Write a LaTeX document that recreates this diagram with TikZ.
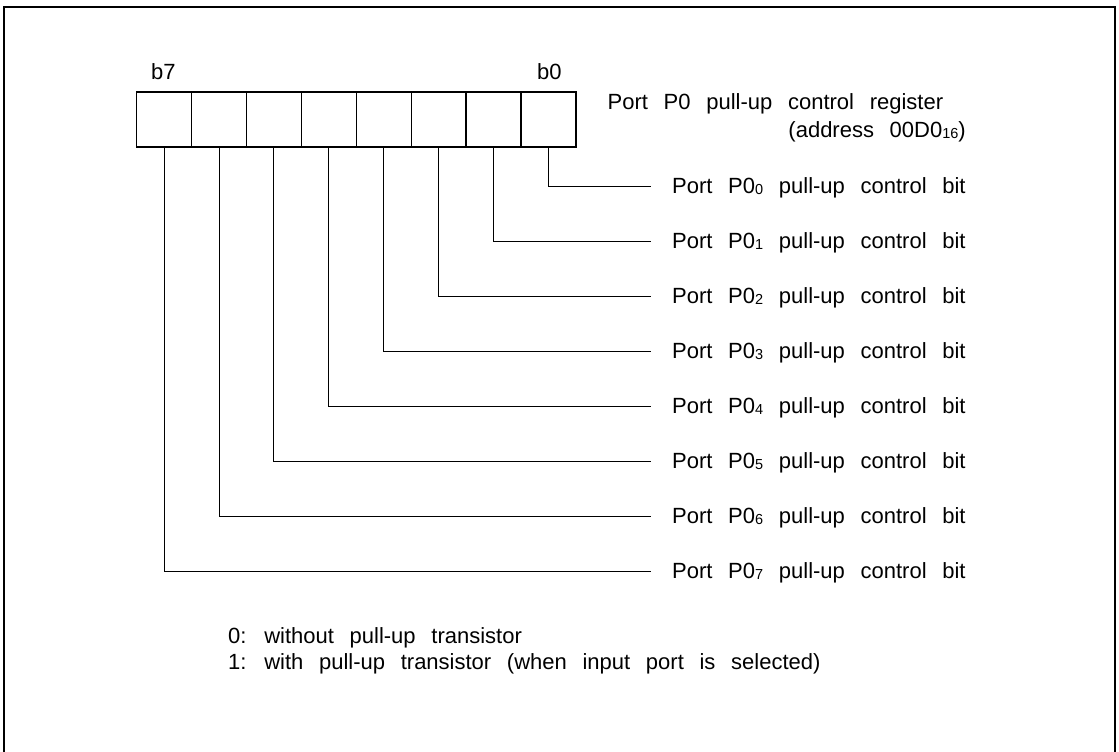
\documentclass[tikz,border=0pt]{standalone}
\usepackage{fontspec}
\setmainfont{Liberation Sans}
\newcommand{\sbs}[1]{\raisebox{-1pt}{\fontsize{14.5}{14.5}\selectfont #1}}
\newcommand{\diagfont}{\fontsize{22}{27}\selectfont\spaceskip=15.7pt plus 2pt minus 1pt\relax}
\tikzset{
  frame/.style={line width=1.8pt},
  cell/.style={draw, line width=1.4pt, minimum width=54.9pt, minimum height=55pt, inner sep=0pt},
  txt/.style={inner sep=0pt, font=\diagfont},
  bitlabel/.style={txt, anchor=west, inner xsep=21pt, text height=15.8pt, text depth=0pt},
  wire/.style={line width=1pt},
}
\begin{document}
\begin{tikzpicture}[x=1pt,y=-1pt]
\useasboundingbox (0,0) rectangle (1119,752);
% outer frame
\draw[frame] (4,752) -- (4,7) -- (1115,7) -- (1115,752);
% register cells
\foreach \k in {0,...,7}
  \node[cell] (c\k) at ({548.5-54.91*\k},119.5) {};
\node[txt, anchor=base west] (tb7) at (151,80) {b7};
\node[txt, anchor=base west] (tb0) at (537,80) {b0};
% title
\node[txt, anchor=base west] (title) at (607.5,110) {Port P0 pull-up control register};
\node[txt, anchor=base east] (addr) at (966,137) {(address 00D0\sbs{16})};
% bit labels and wires
\foreach \k in {0,...,7} {
  \node[bitlabel] (l\k) at (651,{186+55*\k}) {Port P0\sbs{\k} pull-up control bit};
  \draw[wire] (c\k.south) |- (l\k.west);
}
% notes
\node[txt, anchor=base west] (n0) at (228,643) {0: without pull-up transistor};
\node[txt, anchor=base west] (n1) at (228,669) {1: with pull-up transistor (when input port is selected)};
\end{tikzpicture}
\end{document}
